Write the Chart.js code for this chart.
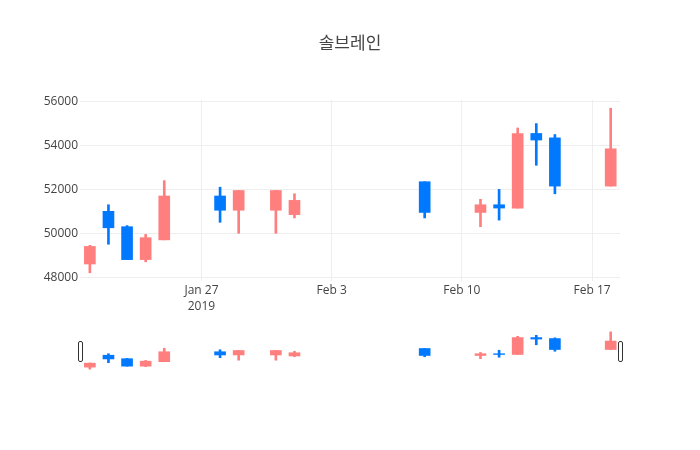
<!DOCTYPE html>
<html>
<head>
<meta charset="utf-8">
<script src="https://cdn.jsdelivr.net/npm/chart.js@4/dist/chart.umd.min.js"></script>
<style>
html, body { margin: 0; padding: 0; background: #fff; }
#wrap { position: relative; width: 700px; height: 450px; }
#main { position: absolute; left: 0; top: 0; }
#slider { position: absolute; left: 0; top: 330px; }
</style>
</head>
<body>
<div id="wrap">
  <canvas id="main" width="700" height="330"></canvas>
  <canvas id="slider" width="700" height="41"></canvas>
</div>
<script>
// ---- data ----
const chartTitle = '솔브레인';
const dates  = ['2019-01-21','2019-01-22','2019-01-23','2019-01-24','2019-01-25',
                '2019-01-28','2019-01-29','2019-01-31','2019-02-01','2019-02-08',
                '2019-02-11','2019-02-12','2019-02-13','2019-02-14','2019-02-15','2019-02-18'];
const opens  = [48600, 51000, 50300, 48800, 49700, 51700, 51050, 51050, 50850, 52350, 50950, 51300, 51150, 54550, 54350, 52150];
const highs  = [49450, 51300, 50350, 49950, 52400, 52100, 51950, 51950, 51800, 52350, 51550, 52000, 54800, 55000, 54500, 55700];
const lows   = [48200, 49500, 48800, 48700, 49700, 50500, 50000, 50000, 50700, 50700, 50300, 50600, 51150, 53100, 51800, 52150];
const closes = [49400, 50250, 48800, 49800, 51700, 51050, 51950, 51950, 51500, 50950, 51300, 51150, 54550, 54250, 52150, 53850];
const xTickDates  = ['2019-01-27','2019-02-03','2019-02-10','2019-02-17'];
const xTickLabels = [['Jan 27','2019'], 'Feb 3', 'Feb 10', 'Feb 17'];
const yTickValues = [48000, 50000, 52000, 54000, 56000];
const yTickLabels = ['48000', '50000', '52000', '54000', '56000'];

// ---- styles / helpers ----
const upColor = 'rgb(255,127,127)';
const downColor = 'rgb(0,121,255)';
const fontFam = '"Open Sans", "Noto Sans CJK KR", sans-serif';
const dayNum = s => Date.parse(s + 'T00:00:00Z') / 86400000;
const xs = dates.map(dayNum);
const xTickVals = xTickDates.map(dayNum);
const xMin = xs[0] - 0.53;
const xMax = xs[xs.length - 1] + 0.5;
const yMin = 47825, yMax = 56075;
const colorOf = ctx => closes[ctx.dataIndex] >= opens[ctx.dataIndex] ? upColor : downColor;

function datasets(bodyW, wickW) {
  return [
    {
      label: 'body',
      data: xs.map((x, i) => ({ x: x, y: [opens[i], closes[i]] })),
      backgroundColor: colorOf, borderWidth: 0,
      barThickness: bodyW, grouped: false, order: 0
    },
    {
      label: 'wick',
      data: xs.map((x, i) => ({ x: x, y: [lows[i], highs[i]] })),
      backgroundColor: colorOf, borderWidth: 0,
      barThickness: wickW, grouped: false, order: 1
    }
  ];
}

new Chart(document.getElementById('main'), {
  type: 'bar',
  data: { datasets: datasets(11, 2) },
  options: {
    responsive: false, animation: false,
    layout: { padding: 0 },
    plugins: {
      legend: { display: false },
      tooltip: { enabled: false },
      title: {
        display: true, text: chartTitle, color: '#444',
        font: { family: fontFam, size: 17, weight: 'normal', lineHeight: 1.2 },
        padding: { top: 34, bottom: 45.6 }
      }
    },
    scales: {
      x: {
        type: 'linear', min: xMin, max: xMax, offset: false,
        afterBuildTicks: s => { s.ticks = xTickVals.map(v => ({ value: v })); },
        afterFit: s => { s.height = 49; },
        grid: { color: '#eeeeee', drawTicks: false, offset: false },
        border: { display: false },
        ticks: {
          padding: 2, color: '#444', maxRotation: 0, autoSkip: false,
          font: { family: fontFam, size: 12, lineHeight: 16 / 12 },
          callback: (v, i) => xTickLabels[i]
        }
      },
      y: {
        min: yMin, max: yMax,
        afterBuildTicks: s => { s.ticks = yTickValues.map(v => ({ value: v })); },
        afterFit: s => { s.width = 80; },
        grid: { color: '#eeeeee', drawTicks: false },
        border: { display: false },
        ticks: {
          padding: 2, color: '#444',
          font: { family: fontFam, size: 12 },
          callback: (v, i) => yTickLabels[i]
        }
      },
      yRight: {
        position: 'right', min: yMin, max: yMax,
        afterFit: s => { s.width = 80; },
        grid: { display: false, drawTicks: false },
        border: { display: false },
        ticks: { display: false }
      }
    }
  }
});

const handlePlugin = {
  id: 'handles',
  afterDraw(chart) {
    const a = chart.chartArea, c = chart.ctx;
    const mid = (a.top + a.bottom) / 2;
    const h = 20, w = 4;
    c.save();
    c.lineWidth = 1;
    c.strokeStyle = '#333';
    c.fillStyle = '#fff';
    [a.left, a.right].forEach(px => {
      const x = Math.round(px - w / 2) + 0.5, y = Math.round(mid - h / 2) + 0.5;
      c.beginPath();
      c.roundRect(x, y, w, h, 1.5);
      c.fill();
      c.stroke();
    });
    c.restore();
  }
};

new Chart(document.getElementById('slider'), {
  type: 'bar',
  data: { datasets: datasets(11, 2) },
  options: {
    responsive: false, animation: false,
    layout: { padding: { left: 80, right: 80, top: 0, bottom: 0 } },
    plugins: { legend: { display: false }, tooltip: { enabled: false } },
    scales: {
      x: { type: 'linear', min: xMin, max: xMax, offset: false, display: false },
      y: { min: yMin, max: yMax, display: false }
    }
  },
  plugins: [handlePlugin]
});
</script>
</body>
</html>
